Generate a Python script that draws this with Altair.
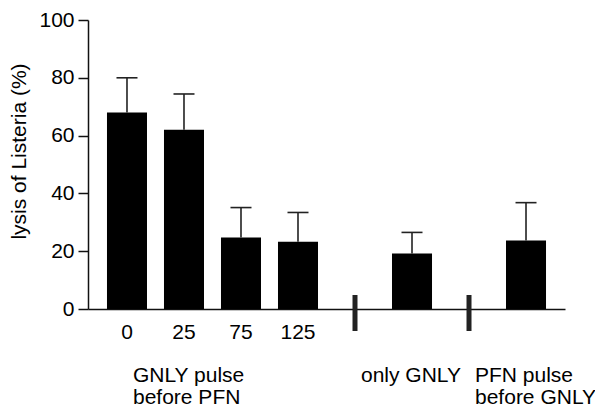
import altair as alt
import pandas as pd

# ---- data ----
slots = ["s0", "s25", "s75", "s125", "b1", "onlyGNLY", "b2", "PFNpulse"]
tick_labels = ["0", "25", "75", "125", "", "", "", ""]
means = [68.0, 62.0, 24.7, 23.3, 0.0, 19.2, 0.0, 23.7]
err_tops = [80.0, 74.4, 35.1, 33.4, None, 26.5, None, 36.8]
break_slots = ["b1", "b2"]
group_texts = ["GNLY pulse\nbefore PFN", "only GNLY", "PFN pulse\nbefore GNLY"]
group_anchor = ["s0", "b1", "b2"]
y_ticks = [0, 20, 40, 60, 80, 100]

FONT = "Liberation Sans"

bars_df = pd.DataFrame({"slot": slots, "mean": means})
err_df = pd.DataFrame({"slot": slots, "mean": means, "err": err_tops}).dropna()
break_df = pd.DataFrame({"slot": break_slots, "v": [0, 0]})
group_df = pd.DataFrame({"slot": group_anchor, "label": group_texts})

label_expr = "".join(
    f"datum.value == '{s}' ? '{t}' : " for s, t in zip(slots, tick_labels)
) + "''"

x_scale = alt.Scale(domain=slots, paddingInner=0.298, paddingOuter=0.333)
y_scale = alt.Scale(domain=[0, 100])

x_enc = alt.X(
    "slot:N",
    scale=x_scale,
    sort=slots,
    axis=alt.Axis(
        title=None,
        labelExpr=label_expr,
        ticks=False,
        labelAngle=0,
        labelFont=FONT,
        labelFontSize=21,
        labelColor="black",
        labelPadding=12,
        domainColor="#111111",
        domainWidth=1.5,
    ),
)

y_axis = alt.Axis(
    values=y_ticks,
    title="lysis of Listeria (%)",
    titleFont=FONT,
    titleFontSize=21,
    titleFontWeight="normal",
    titleColor="black",
    titleAngle=270,
    titleAlign="center",
    titleBaseline="middle",
    titleX=-69,
    titleY=131,
    labelFont=FONT,
    labelFontSize=21,
    labelColor="black",
    labelPadding=4,
    tickSize=10,
    tickWidth=1.5,
    tickColor="#111111",
    domainColor="#111111",
    domainWidth=1.5,
    grid=False,
)

bars = alt.Chart(bars_df).mark_bar(color="black").encode(
    x=x_enc,
    y=alt.Y("mean:Q", scale=y_scale, axis=y_axis),
)

err_rule = alt.Chart(err_df).mark_rule(color="#222222", strokeWidth=1.6).encode(
    x=alt.X("slot:N", scale=x_scale, sort=slots),
    y=alt.Y("mean:Q", scale=y_scale),
    y2="err:Q",
)

err_cap = alt.Chart(err_df).mark_tick(
    color="#222222", orient="horizontal", size=21, thickness=1.6, opacity=1
).encode(
    x=alt.X("slot:N", scale=x_scale, sort=slots),
    y=alt.Y("err:Q", scale=y_scale),
)

breaks = alt.Chart(break_df).mark_tick(
    color="#222222", orient="vertical", size=36, thickness=5, opacity=1
).encode(
    x=alt.X("slot:N", scale=x_scale, sort=slots),
    y=alt.Y("v:Q", scale=y_scale),
    yOffset=alt.value(4),
)

groups = alt.Chart(group_df).mark_text(
    align="left",
    baseline="alphabetic",
    dx=6,
    font=FONT,
    fontSize=21,
    color="black",
    lineBreak="\n",
    lineHeight=22,
).encode(
    x=alt.X("slot:N", scale=x_scale, sort=slots),
    y=alt.value(362),
    text="label:N",
)

chart = (
    alt.layer(bars, err_rule, err_cap, breaks, groups)
    .properties(
        width=477,
        height=289,
        autosize=alt.AutoSizeParams(type="none"),
        padding={"left": 80, "top": 12, "right": 30, "bottom": 100},
        background="white",
    )
    .configure_view(stroke=None)
)

chart.save("out.html", embed_options={"renderer": "svg", "actions": False})
